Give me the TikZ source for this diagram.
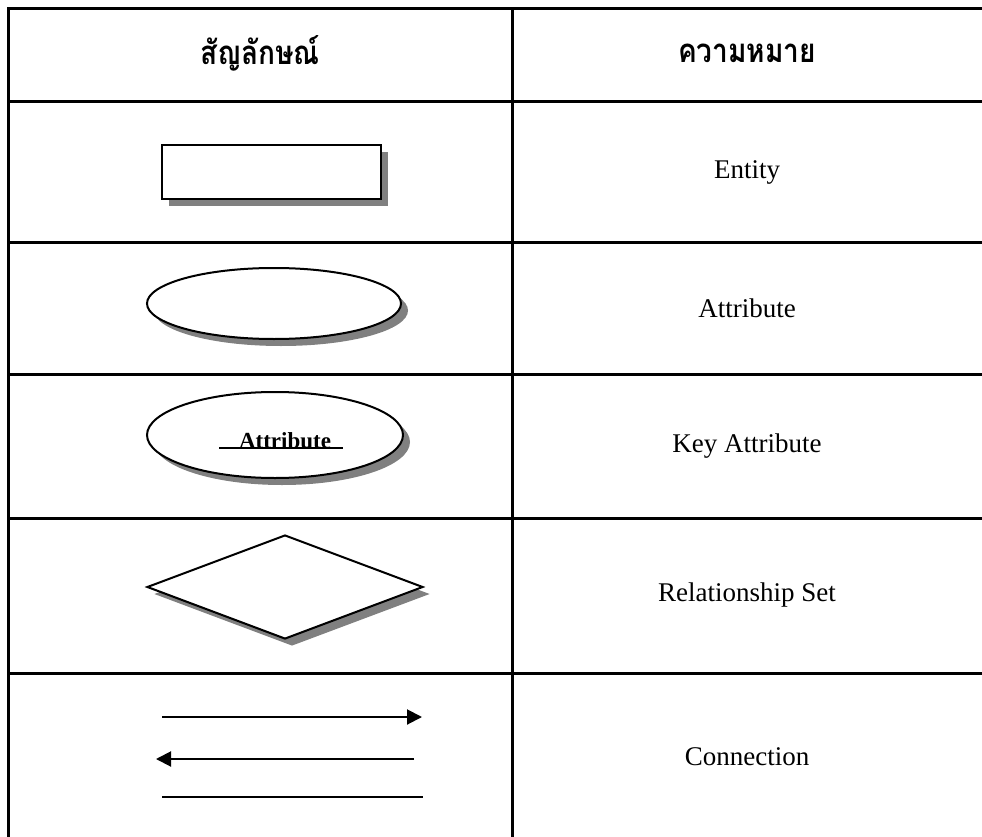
\documentclass[tikz,border=0pt]{standalone}
\usepackage{fontspec}
\setmainfont{Liberation Serif}
\newfontfamily\thaifont[Script=Thai]{Loma}
\usetikzlibrary{shapes.geometric,shadows,arrows.meta}
\begin{document}
\begin{tikzpicture}[x=1pt,y=-1pt,
  grid/.style={line width=3pt},
  shp/.style={draw=black,line width=2pt,fill=white,
    drop shadow={shadow xshift=7pt,shadow yshift=-7pt,fill=black!50,opacity=1}},
  lbl/.style={font=\fontsize{27}{32}\selectfont},
  hdr/.style={font=\thaifont\bfseries\fontsize{33}{40}\selectfont,xscale=0.85},
  conn/.style={line width=2pt},
  tip/.style={-{Triangle[length=15pt,width=15pt]}}]
\useasboundingbox (0,0) rectangle (982,837);
\begin{scope}
\clip (0,0) rectangle (982,837);
% table
\draw[grid] (8,9) -- (1000,9);
\draw[grid] (8,7.5) -- (8,860);
\draw[grid] (512,9) -- (512,860);
\foreach \yy in {102,242,374,518,673} \draw[grid] (8,\yy) -- (1000,\yy);
\end{scope}
% headers
\node[hdr] (h1) at (260,53) {สัญลักษณ์};
\node[hdr] (h2) at (747,53) {ความหมาย};
% entity
\node[shp,rectangle,minimum width=219pt,minimum height=54pt,inner sep=0pt] (ent) at (271.5,172) {};
\node[lbl] (t1) at (747,172) {Entity};
% attribute
\node[shp,ellipse,minimum width=254pt,minimum height=71pt,inner sep=0pt] (att) at (274,303.5) {};
\node[lbl] (t2) at (747,308) {Attribute};
% key attribute
\node[shp,ellipse,minimum width=256pt,minimum height=86pt,inner sep=0pt] (key) at (275,435) {};
\node[font=\bfseries\fontsize{23}{28}\selectfont,inner sep=0pt,anchor=base] (keyt) at (285,448) {Attribute};
\draw[line width=1.5pt] (219,448) -- (343,448);
\node[lbl] (t3) at (747,446) {Key Attribute};
% relationship
\node[shp,diamond,minimum width=276pt,minimum height=104pt,inner sep=0pt,aspect=2.65] (rel) at (285,587) {};
\node[lbl] (t4) at (747,595) {Relationship Set};
% connection
\coordinate (a1) at (162,717); \coordinate (b1) at (422,717);
\coordinate (a2) at (414,759); \coordinate (b2) at (156,759);
\coordinate (a3) at (162,797); \coordinate (b3) at (423,797);
\draw[conn,tip] (a1) -- (b1);
\draw[conn,tip] (a2) -- (b2);
\draw[conn] (a3) -- (b3);
\node[lbl] (t5) at (747,757) {Connection};
\end{tikzpicture}
\end{document}
